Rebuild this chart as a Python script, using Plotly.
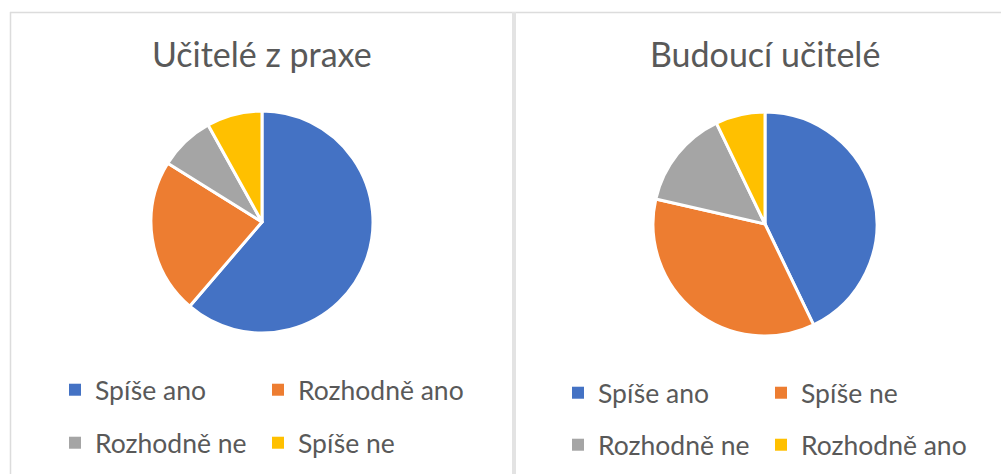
import plotly.graph_objects as go

# ---- data ----
left_title = "Učitelé z praxe"
left_labels = ["Spíše ano", "Rozhodně ano", "Rozhodně ne", "Spíše ne"]
left_values = [38, 14, 5, 5]

right_title = "Budoucí učitelé"
right_labels = ["Spíše ano", "Spíše ne", "Rozhodně ne", "Rozhodně ano"]
right_values = [12, 10, 4, 2]

slice_colors = ["#4472C4", "#ED7D31", "#A5A5A5", "#FFC000"]

W, H = 1001, 474
FONT = "Lato, Carlito, 'Open Sans', sans-serif"
TXT = "#595959"

def px(x):
    return x / W

def py(y):
    return 1 - y / H

fig = go.Figure()

fig.add_trace(go.Pie(
    labels=left_labels, values=left_values, sort=False, direction="clockwise",
    rotation=0, textinfo="none", showlegend=False,
    marker=dict(colors=slice_colors, line=dict(color="white", width=3)),
    domain=dict(x=[px(151), px(373)], y=[py(333), py(111)]),
))
fig.add_trace(go.Pie(
    labels=right_labels, values=right_values, sort=False, direction="clockwise",
    rotation=0, textinfo="none", showlegend=False,
    marker=dict(colors=slice_colors, line=dict(color="white", width=3)),
    domain=dict(x=[px(653), px(877)], y=[py(336), py(112)]),
))

# legend layout: 2x2 grid per chart, one legend box per entry
leg_font = dict(family=FONT, size=26.5, color=TXT)
grid = [  # (labels, x of column start, y of row centre)
    (left_labels, [55, 258], [390, 443]),
    (right_labels, [558, 761], [393, 445]),
]
legends = {}
k = 0
for labs, xs, ys in grid:
    for i, lab in enumerate(labs):
        k += 1
        name = "legend" if k == 1 else f"legend{k}"
        legends[name] = dict(x=px(xs[i % 2]), y=py(ys[i // 2]), xanchor="left", yanchor="middle",
                             orientation="h", bgcolor="rgba(0,0,0,0)", font=leg_font,
                             itemclick=False, itemdoubleclick=False)
        fig.add_trace(go.Scatter(
            x=[None], y=[None], mode="markers", name=lab, legend=name,
            marker=dict(symbol="square", size=12, color=slice_colors[i]),
            hoverinfo="skip",
        ))

fig.update_layout(
    width=W, height=H,
    margin=dict(l=0, r=0, t=0, b=0),
    paper_bgcolor="white", plot_bgcolor="white",
    xaxis=dict(visible=False), yaxis=dict(visible=False),
    annotations=[
        dict(text=left_title, x=px(262), y=py(54), xref="paper", yref="paper",
             showarrow=False, xanchor="center", yanchor="middle",
             font=dict(family=FONT, size=34, color=TXT)),
        dict(text=right_title, x=px(765), y=py(54), xref="paper", yref="paper",
             showarrow=False, xanchor="center", yanchor="middle",
             font=dict(family=FONT, size=34, color=TXT)),
    ],
    shapes=[
        dict(type="line", xref="paper", yref="paper", x0=px(10), x1=1.0, y0=py(12.5), y1=py(12.5),
             line=dict(color="#DCDCDC", width=1.5)),
        dict(type="line", xref="paper", yref="paper", x0=px(10.5), x1=px(10.5), y0=py(12), y1=0,
             line=dict(color="#DCDCDC", width=1.5)),
        dict(type="rect", xref="paper", yref="paper", x0=px(512), x1=px(516), y0=0, y1=py(12),
             fillcolor="#E3E3E3", line=dict(width=0)),
    ],
    **legends,
)

fig.write_html("out.html", config={"displayModeBar": False},
               post_script="document.body.style.margin='0px';")
